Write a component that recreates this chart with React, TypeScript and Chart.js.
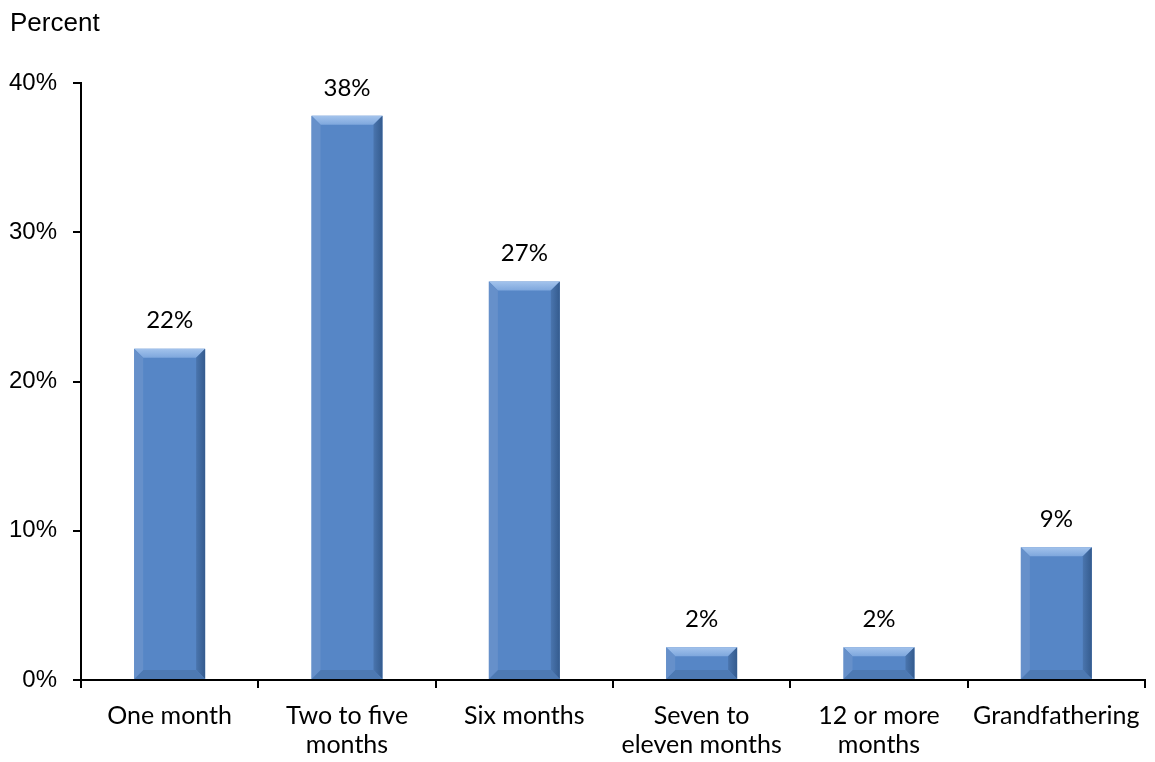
import React, { useEffect, useRef } from "react";
import { Chart, registerables } from "chart.js";

Chart.register(...registerables);

const categories: (string | string[])[] = [
  "One month",
  ["Two to five", "months"],
  "Six months",
  ["Seven to", "eleven months"],
  ["12 or more", "months"],
  "Grandfathering",
];
const values = [22.2, 37.8, 26.7, 2.2, 2.2, 8.9];
const valueLabels = ["22%", "38%", "27%", "2%", "2%", "9%"];
const yTicks = [0, 10, 20, 30, 40];

const LABEL_FONT = "Lato, 'Open Sans', sans-serif";
const AXIS_FONT = "'Liberation Sans', Arial, sans-serif";

const bevelPlugin = {
  id: "bevel",
  afterDatasetsDraw(chart: any) {
    const ctx = chart.ctx;
    const meta = chart.getDatasetMeta(0);
    meta.data.forEach((bar: any, i: number) => {
      const w = bar.width;
      const l = bar.x - w / 2;
      const r = bar.x + w / 2;
      const t = bar.y;
      const b = bar.base;
      const h = b - t;
      const d = Math.min(9, h / 2, w / 2);
      ctx.save();
      // top
      const gTop = ctx.createLinearGradient(0, t, 0, t + d);
      gTop.addColorStop(0, "#A3C3EC");
      gTop.addColorStop(1, "#7EA7DD");
      ctx.fillStyle = gTop;
      ctx.beginPath();
      ctx.moveTo(l, t); ctx.lineTo(r, t); ctx.lineTo(r - d, t + d); ctx.lineTo(l + d, t + d); ctx.closePath(); ctx.fill();
      // right
      const gR = ctx.createLinearGradient(r - d, 0, r, 0);
      gR.addColorStop(0, "#4A75AE");
      gR.addColorStop(1, "#345B8E");
      ctx.fillStyle = gR;
      ctx.beginPath();
      ctx.moveTo(r, t); ctx.lineTo(r, b); ctx.lineTo(r - d, b - d); ctx.lineTo(r - d, t + d); ctx.closePath(); ctx.fill();
      // bottom
      ctx.fillStyle = "#4D79B2";
      ctx.beginPath();
      ctx.moveTo(l, b); ctx.lineTo(r, b); ctx.lineTo(r - d, b - d); ctx.lineTo(l + d, b - d); ctx.closePath(); ctx.fill();
      // left
      ctx.fillStyle = "#6690CA";
      ctx.beginPath();
      ctx.moveTo(l, t); ctx.lineTo(l + d, t + d); ctx.lineTo(l + d, b - d); ctx.lineTo(l, b); ctx.closePath(); ctx.fill();
      // data label
      ctx.fillStyle = "#000";
      ctx.font = `24px ${LABEL_FONT}`;
      ctx.textAlign = "center";
      ctx.textBaseline = "middle";
      ctx.fillText(valueLabels[i], bar.x, t - 28);
      ctx.restore();
    });
    // title
    ctx.save();
    ctx.fillStyle = "#000";
    ctx.font = `26px ${AXIS_FONT}`;
    ctx.textAlign = "left";
    ctx.textBaseline = "middle";
    ctx.fillText("Percent", 10, 24);
    ctx.restore();
  },
};

export default function App() {
  const ref = useRef<HTMLCanvasElement>(null);
  useEffect(() => {
    if (!ref.current) return;
    const chart = new Chart(ref.current, {
      type: "bar",
      data: {
        labels: categories as any,
        datasets: [
          {
            data: values,
            backgroundColor: "#5686C6",
            borderWidth: 0,
            barPercentage: 0.4,
            categoryPercentage: 1,
          },
        ],
      },
      plugins: [bevelPlugin],
      options: {
        animation: false,
        responsive: false,
        maintainAspectRatio: false,
        layout: { padding: { top: 83, right: 10, left: 0, bottom: 0 } },
        plugins: { legend: { display: false }, tooltip: { enabled: false } },
        scales: {
          x: {
            afterFit: (s: any) => { s.height = 82; },
            grid: { display: true, drawOnChartArea: false, drawTicks: true, tickLength: 8, color: "#000", lineWidth: 2, offset: true },
            border: { display: true, color: "#000", width: 2 },
            ticks: { color: "#000", font: { size: 25, family: LABEL_FONT, lineHeight: 1.18 }, padding: 13, maxRotation: 0, autoSkip: false },
          },
          y: {
            min: 0,
            max: 40,
            afterFit: (s: any) => { s.width = 81; },
            afterBuildTicks: (s: any) => { s.ticks = yTicks.map((v) => ({ value: v })); },
            grid: { display: true, drawOnChartArea: false, drawTicks: true, tickLength: 8, color: "#000", lineWidth: 2 },
            border: { display: true, color: "#000", width: 2 },
            ticks: { color: "#000", font: { size: 24, family: AXIS_FONT }, padding: 16, callback: (v: any) => v + "%" },
          },
        },
      },
    });
    return () => chart.destroy();
  }, []);
  return (
    <div style={{ position: "fixed", left: 0, top: 0, width: 1155, height: 762, background: "#fff" }}>
      <canvas ref={ref} width={1155} height={762} style={{ width: 1155, height: 762 }} />
    </div>
  );
}
